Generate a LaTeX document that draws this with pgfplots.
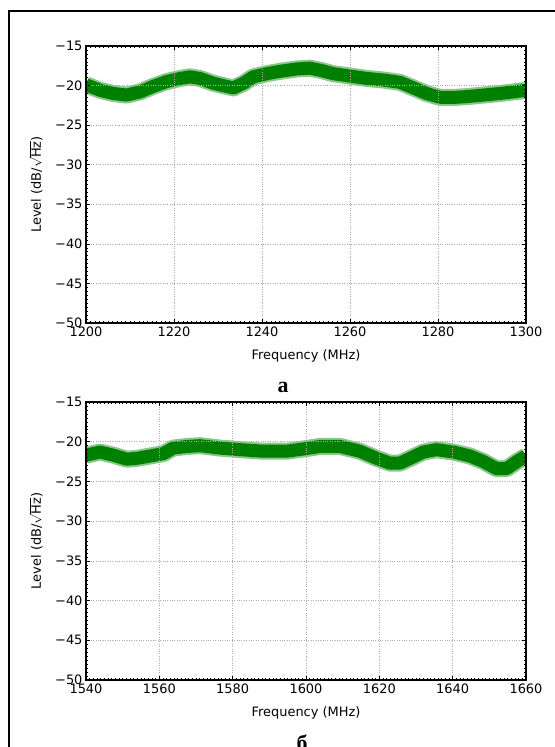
\documentclass[border=0pt]{standalone}
\usepackage{fontspec}
\setmainfont{DejaVu Sans}
\newfontfamily\capfont{Liberation Serif}
\usepackage{pgfplots}
\pgfplotsset{compat=1.18}
\definecolor{mplgreen}{HTML}{008000}

\pgfplotsset{spec/.style={
  scale only axis, width=440bp, anchor=south west,
  ymin=-50, ymax=-15, ytick={-50,-45,...,-15},
  yticklabels={−50,−45,−40,−35,−30,−25,−20,−15},
  minor y tick num=9, minor x tick num=19,
  tick align=inside, major tick length=4bp, minor tick length=2bp,
  tick style={black, line width=0.6bp},
  axis line style={black, line width=1.4bp},
  grid=major, grid style={gray!65, dotted, line width=0.7bp},
  tick label style={font=\fontsize{13}{13}\selectfont},
  label style={font=\fontsize{13}{13}\selectfont},
  /pgf/number format/assume math mode=true,
  /pgf/number format/1000 sep={},
  xlabel={Frequency (MHz)},
  ylabel={Level (dB/$\sqrt{\mbox{Hz}}$)},
  x label style={at={(axis description cs:0.5,-0.12)}, anchor=center},
  y label style={at={(axis description cs:-0.114,0.5)}, anchor=center},
  axis on top}}

\begin{document}
\begin{tikzpicture}
\useasboundingbox (0bp,0bp) rectangle (555bp,747bp);
\draw[line width=2.6bp] (9bp,-2bp) -- (9bp,736bp) -- (557bp,736bp);

\begin{axis}[spec, at={(86bp,424bp)}, height=277bp,
  xmin=1200, xmax=1300, xtick={1200,1220,...,1300}]
\addplot[mplgreen!45, line width=17bp, line join=round] coordinates {
(1200,-19.9) (1203.2,-20.6) (1206.2,-21.0) (1209.2,-21.2) (1212.3,-20.8)
(1215.3,-20.1) (1218.3,-19.5) (1221.4,-19.1) (1223.6,-18.9) (1225.9,-19.1)
(1228.9,-19.7) (1231.9,-20.1) (1233.5,-20.3) (1235.8,-19.7) (1238.0,-18.9)
(1241.1,-18.5) (1244.1,-18.2) (1247.9,-17.9) (1250.9,-17.8) (1253.5,-18.1)
(1256.2,-18.5) (1260.0,-18.8) (1263.8,-19.1) (1267.6,-19.3) (1271.4,-19.6)
(1274.4,-20.3) (1277.4,-21.0) (1280.5,-21.5) (1283.5,-21.5) (1286.5,-21.4)
(1290.3,-21.2) (1294.1,-21.0) (1297.1,-20.8) (1300,-20.6)};
\addplot[mplgreen, line width=13bp, line join=round] coordinates {
(1200,-19.9) (1203.2,-20.6) (1206.2,-21.0) (1209.2,-21.2) (1212.3,-20.8)
(1215.3,-20.1) (1218.3,-19.5) (1221.4,-19.1) (1223.6,-18.9) (1225.9,-19.1)
(1228.9,-19.7) (1231.9,-20.1) (1233.5,-20.3) (1235.8,-19.7) (1238.0,-18.9)
(1241.1,-18.5) (1244.1,-18.2) (1247.9,-17.9) (1250.9,-17.8) (1253.5,-18.1)
(1256.2,-18.5) (1260.0,-18.8) (1263.8,-19.1) (1267.6,-19.3) (1271.4,-19.6)
(1274.4,-20.3) (1277.4,-21.0) (1280.5,-21.5) (1283.5,-21.5) (1286.5,-21.4)
(1290.3,-21.2) (1294.1,-21.0) (1297.1,-20.8) (1300,-20.6)};
\end{axis}

\begin{axis}[spec, at={(86bp,67bp)}, height=278bp,
  xmin=1540, xmax=1660, xtick={1540,1560,...,1660}]
\addplot[mplgreen!45, line width=17bp, line join=round] coordinates {
(1540,-21.7) (1543.8,-21.3) (1547.5,-21.7) (1551.1,-22.2) (1553.8,-22.1)
(1557.5,-21.8) (1561.1,-21.5) (1563.8,-20.8) (1567.5,-20.6) (1571.1,-20.5)
(1576.5,-20.8) (1582.0,-21.0) (1588.4,-21.2) (1594.7,-21.2) (1599.5,-20.9)
(1603.8,-20.6) (1609.3,-20.6) (1614.7,-21.2) (1619.3,-22.1) (1622.9,-22.7)
(1625.6,-22.7) (1628.4,-22.1) (1632.0,-21.3) (1635.6,-21.0) (1640.2,-21.3)
(1644.7,-21.8) (1648.4,-22.5) (1652.0,-23.4) (1654.7,-23.4) (1657.5,-22.5)
(1660,-21.8)};
\addplot[mplgreen, line width=13bp, line join=round] coordinates {
(1540,-21.7) (1543.8,-21.3) (1547.5,-21.7) (1551.1,-22.2) (1553.8,-22.1)
(1557.5,-21.8) (1561.1,-21.5) (1563.8,-20.8) (1567.5,-20.6) (1571.1,-20.5)
(1576.5,-20.8) (1582.0,-21.0) (1588.4,-21.2) (1594.7,-21.2) (1599.5,-20.9)
(1603.8,-20.6) (1609.3,-20.6) (1614.7,-21.2) (1619.3,-22.1) (1622.9,-22.7)
(1625.6,-22.7) (1628.4,-22.1) (1632.0,-21.3) (1635.6,-21.0) (1640.2,-21.3)
(1644.7,-21.8) (1648.4,-22.5) (1652.0,-23.4) (1654.7,-23.4) (1657.5,-22.5)
(1660,-21.8)};
\end{axis}

\node[anchor=base, font=\capfont\bfseries\fontsize{22}{22}\selectfont] at (283bp,354bp) {а};
\node[anchor=base, font=\capfont\bfseries\fontsize{22}{22}\selectfont] at (302bp,-3bp) {б};
\end{tikzpicture}
\end{document}
